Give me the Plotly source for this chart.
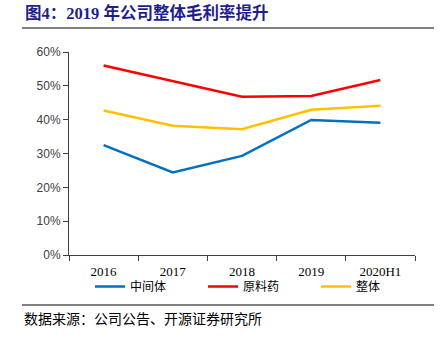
import plotly.graph_objects as go

years = ["2016", "2017", "2018", "2019", "2020H1"]
intermediate = [32.5, 24.4, 29.3, 39.9, 39.1]
api = [56.0, 51.3, 46.8, 47.0, 51.7]
overall = [42.7, 38.2, 37.2, 42.9, 44.1]

series = [
    ("中间体", intermediate, "#0070C0", "legend", 90),
    ("原料药", api, "#FF0000", "legend2", 203),
    ("整体", overall, "#FFC000", "legend3", 316),
]

L, R, T, B = 69, 415, 52, 255
W, H = R - L, B - T

fig = go.Figure()
legend_defs = {}
for name, vals, color, lg, lx in series:
    fig.add_trace(go.Scatter(
        x=years, y=vals, name=name, mode="lines",
        line=dict(color=color, width=2.5), legend=lg,
    ))
    legend_defs[lg] = dict(
        orientation="h", x=(lx - L) / W, y=(B - 272) / H,
        xanchor="left", yanchor="top",
        font=dict(family="Noto Sans CJK SC", size=12, color="#000000"),
        itemwidth=30, bgcolor="rgba(0,0,0,0)",
    )

fig.update_layout(
    width=444, height=343,
    margin=dict(l=L, r=444 - R, t=T, b=343 - B),
    plot_bgcolor="white", paper_bgcolor="white",
    showlegend=True,
    **legend_defs,
    xaxis=dict(
        type="category", range=[-0.5, 4.5],
        showline=True, linecolor="#404040", linewidth=1,
        ticks="outside", tickson="boundaries", ticklen=5, tickcolor="#404040",
        showgrid=False, ticklabelstandoff=4,
        tickfont=dict(family="Liberation Serif", size=13, color="#000000"),
    ),
    yaxis=dict(
        range=[0, 60], dtick=10, ticksuffix="%",
        showline=True, linecolor="#404040", linewidth=1,
        ticks="outside", ticklen=5, tickcolor="#404040",
        showgrid=False, zeroline=False,
        tickfont=dict(family="Liberation Sans", size=12, color="#404040"),
    ),
    annotations=[
        dict(text="<b>图4：2019 年公司整体毛利率提升</b>", xref="paper", yref="paper",
             x=(23 - L) / W, y=(B - 13) / H, xanchor="left", yanchor="middle",
             showarrow=False,
             font=dict(family="Liberation Serif, Noto Sans CJK SC", size=16.5, color="#1F1F8C")),
        dict(text="数据来源：公司公告、开源证券研究所", xref="paper", yref="paper",
             x=(22 - L) / W, y=(B - 318) / H, xanchor="left", yanchor="middle",
             showarrow=False,
             font=dict(family="Noto Sans CJK SC", size=14, color="#000000")),
    ],
    shapes=[
        dict(type="line", xref="paper", yref="paper",
             x0=(22 - L) / W, x1=(434 - L) / W,
             y0=(B - 28) / H, y1=(B - 28) / H,
             line=dict(color="#595959", width=1.5)),
        dict(type="line", xref="paper", yref="paper",
             x0=(22 - L) / W, x1=(434 - L) / W,
             y0=(B - 305) / H, y1=(B - 305) / H,
             line=dict(color="#000000", width=1)),
    ],
)

fig.write_html("out.html")
